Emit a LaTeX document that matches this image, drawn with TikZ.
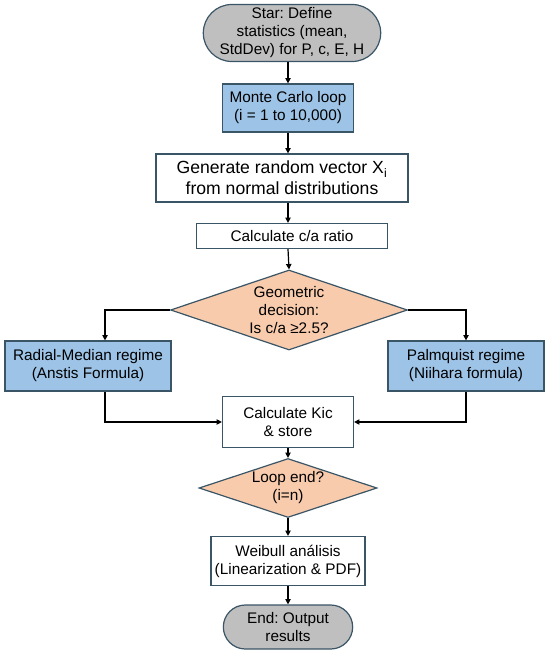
\documentclass[tikz,border=0pt]{standalone}
\usepackage{fontspec}
\setmainfont{Liberation Sans}
\usetikzlibrary{positioning,arrows.meta,shapes.geometric,shapes.misc}
\definecolor{edgec}{HTML}{3A5566}
\definecolor{termfill}{HTML}{BFBFBF}
\definecolor{regfill}{HTML}{9DC3E6}
\definecolor{decfill}{HTML}{F8CBAD}
\frenchspacing

\begin{document}
\begin{tikzpicture}[x=0.75pt, y=-0.75pt, font=\fontsize{11.5}{13.5}\selectfont, >={Triangle[length=4pt,width=4pt]},
  term/.style={rounded rectangle, draw=edgec, fill=termfill, line width=0.9pt, align=center, inner sep=1pt},
  proc/.style={draw=edgec, fill=white, line width=0.9pt, align=center, inner sep=1pt},
  regime/.style={draw=edgec, fill=regfill, line width=0.9pt, align=center, inner sep=1pt},
  dec/.style={diamond, aspect=3, draw=edgec, fill=decfill, line width=0.9pt, align=center, inner sep=0pt},
  link/.style={->, line width=0.9pt, black}]
  \useasboundingbox (0,0) rectangle (550,655);
  \node[term, minimum width=120.75pt, minimum height=42.75pt] (start) at (292,33) {Star: Define\\statistics (mean,\\StdDev) for P, c, E, H};
  \node[regime, minimum width=98.25pt, minimum height=36pt] (mc) at (288,108) {Monte Carlo loop\\(i = 1 to 10,000)};
  \node[proc, minimum width=189pt, minimum height=36pt, font=\fontsize{13.2}{16}\selectfont] (gen) at (282,178) {Generate random vector X\textsubscript{i}\\from normal distributions};
  \node[proc, minimum width=143.25pt, minimum height=18.75pt] (ratio) at (292,236) {Calculate c/a ratio};
  \node[dec, minimum width=177.75pt, minimum height=60pt] (geo) at (289,310) {Geometric\\decision:\\Is c/a ≥2.5?};
  \node[regime, minimum width=124.5pt, minimum height=37.5pt] (radial) at (88,366) {Radial-Median regime\\(Anstis Formula)};
  \node[regime, minimum width=117pt, minimum height=37.5pt] (palm) at (466,366) {Palmquist regime\\(Niihara formula)};
  \node[proc, minimum width=98.25pt, minimum height=38.25pt] (kic) at (288,422) {Calculate Kic\\\& store};
  \node[dec, minimum width=133.5pt, minimum height=44.25pt] (loop) at (288,488) {Loop end?\\(i=n)};
  \node[proc, minimum width=115.5pt, minimum height=36.75pt] (weib) at (288,561) {Weibull análisis\\(Linearization \& PDF)};
  \node[term, minimum width=99pt, minimum height=33pt] (endn) at (288,627) {End: Output\\results};
  \draw[link] ([xshift=-3pt]start.south) -- ([xshift=-3pt]start.south |- mc.north);
  \draw[link] (mc.south) -- (mc.south |- gen.north);
  \draw[link] (mc.south |- gen.south) -- (mc.south |- ratio.north);
  \draw[link] (mc.south |- ratio.south) -- (geo.north);
  \draw[link] (geo.west) -| ([xshift=12.75pt]radial.north);
  \draw[link] (geo.east) -| (palm.north);
  \draw[link] ([xshift=12.75pt]radial.south) |- (kic.west);
  \draw[link] (palm.south) |- (kic.east);
  \draw[link] (kic.south) -- (loop.north);
  \draw[link] (loop.south) -- (weib.north);
  \draw[link] (weib.south) -- (endn.north);
\end{tikzpicture}
\end{document}
